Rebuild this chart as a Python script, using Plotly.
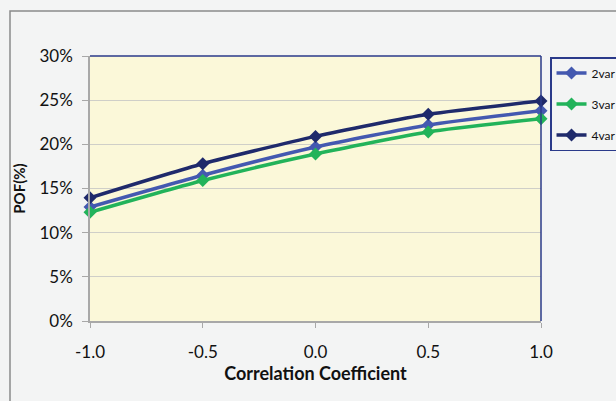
import plotly.graph_objects as go

corr = [-1.0, -0.5, 0.0, 0.5, 1.0]
pof_2var = [12.9, 16.5, 19.7, 22.2, 23.8]
pof_3var = [12.3, 15.9, 18.9, 21.4, 22.9]
pof_4var = [13.95, 17.8, 20.9, 23.4, 24.9]
series_names = ["2var", "3var", "4var"]
colors = ["#4459b0", "#22b35a", "#1f2a6b"]
y_ticks = [0, 5, 10, 15, 20, 25, 30]
x_ticks = [-1.0, -0.5, 0.0, 0.5, 1.0]
x_tick_labels = ["-1.0", "-0.5", "0.0", "0.5", "1.0"]

fig = go.Figure()
for name, vals, col in zip(series_names, [pof_2var, pof_3var, pof_4var], colors):
    fig.add_trace(go.Scatter(
        x=corr, y=[v / 100 for v in vals], name=name, mode="lines+markers",
        line=dict(color=col, width=3.5, shape="spline", smoothing=0.6),
        marker=dict(symbol="diamond", size=10, color=col),
        cliponaxis=False, legendgroup=name,
    ))

font_family = "Lato, Open Sans, sans-serif"
fig.update_layout(
    width=616, height=401,
    margin=dict(l=90, r=75, t=56, b=80, autoexpand=False),
    paper_bgcolor="#f3f4f4",
    plot_bgcolor="#fbf8d9",
    font=dict(family=font_family, color="#111111", size=17),
    showlegend=True,
    legend=dict(
        x=1.02, y=0.996, xanchor="left", yanchor="top",
        bgcolor="#f3f4f4", bordercolor="#2a3a8a", borderwidth=1.5,
        font=dict(size=12, family=font_family),
        tracegroupgap=12, itemwidth=30,
    ),
    xaxis=dict(
        range=[-1, 1], tickvals=x_ticks, ticktext=x_tick_labels,
        showgrid=False, zeroline=False,
        showline=True, linecolor="#a8a8a8", linewidth=1.5,
        ticks="outside", ticklen=5, tickcolor="#a8a8a8",
        ticklabelstandoff=10,
        title=dict(text="<b>Correlation Coefficient</b>", font=dict(size=18), standoff=6),
    ),
    yaxis=dict(
        range=[0, 0.30], tickvals=[t / 100 for t in y_ticks], tickformat=".0%",
        showgrid=True, gridcolor="#cfcfc8", gridwidth=1.2, zeroline=False,
        showline=True, linecolor="#a8a8a8", linewidth=1.5,
        ticks="outside", ticklen=6, tickcolor="#a8a8a8",
        ticklabelstandoff=6,
        title=dict(text="<b>POF(%)</b>", font=dict(size=15), standoff=10),
    ),
    shapes=[
        dict(type="line", xref="paper", yref="paper", x0=0, x1=1, y0=1, y1=1,
             line=dict(color="#2a3a8a", width=1.5), layer="above"),
        dict(type="line", xref="paper", yref="paper", x0=1, x1=1, y0=0, y1=1,
             line=dict(color="#2a3a8a", width=1.5), layer="above"),
        dict(type="rect", xref="paper", yref="paper",
             x0=(10 - 90) / 451, x1=2, y0=-2, y1=(321 - 11) / 265,
             line=dict(color="#8a8a8a", width=1.5), layer="below"),
    ],
)

fig.write_html("out.html")
